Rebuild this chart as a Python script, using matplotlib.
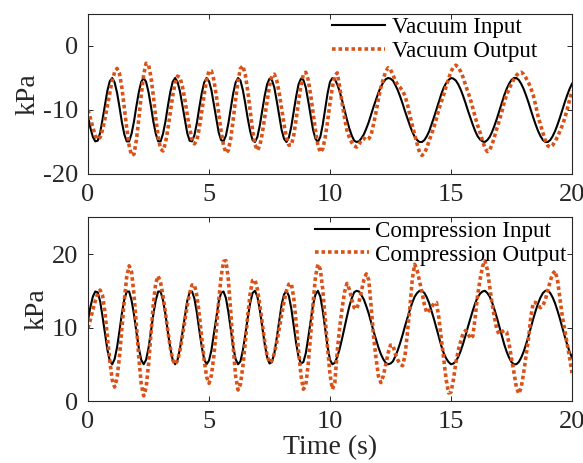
import numpy as np
import matplotlib
matplotlib.use("Agg")
import matplotlib.pyplot as plt

# samples every 0.1 s (kPa)
time_s = np.linspace(0, 20, 201)

vacuum_input = [
    -11.0, -12.8, -14.2, -14.9, -14.8, -13.6, -11.5, -9.2, -7.0, -5.5,
    -5.0, -5.7, -7.3, -9.5, -11.9, -13.8, -14.9, -14.9, -13.7, -11.8,
    -9.4, -7.2, -5.6, -5.0, -5.6, -7.2, -9.4, -11.8, -13.7, -14.9,
    -14.9, -13.7, -11.8, -9.4, -7.2, -5.6, -5.0, -5.6, -7.1, -9.3,
    -11.6, -13.6, -14.8, -14.9, -13.9, -12.0, -9.6, -7.4, -5.7, -5.0,
    -5.5, -6.9, -9.1, -11.4, -13.5, -14.7, -14.9, -14.0, -12.1, -9.8,
    -7.4, -5.7, -5.0, -5.4, -6.9, -9.0, -11.3, -13.3, -14.7, -15.0,
    -14.2, -12.4, -10.1, -7.8, -6.0, -5.1, -5.3, -6.5, -8.6, -10.9,
    -13.1, -14.5, -15.0, -14.3, -12.6, -10.2, -7.9, -6.0, -5.1, -5.3,
    -6.5, -8.6, -10.9, -13.1, -14.5, -15.0, -14.2, -12.3, -9.9, -7.4,
    -5.6, -5.0, -5.2, -6.0, -7.1, -8.5, -10.0, -11.5, -12.9, -14.0,
    -14.8, -15.0, -14.9, -14.4, -13.8, -12.9, -11.9, -10.7, -9.5, -8.4,
    -7.3, -6.4, -5.7, -5.2, -5.0, -5.1, -5.4, -6.1, -6.9, -7.9,
    -9.0, -10.2, -11.3, -12.4, -13.4, -14.2, -14.7, -15.0, -15.0, -14.7,
    -14.1, -13.3, -12.2, -11.1, -9.9, -8.7, -7.5, -6.5, -5.8, -5.3,
    -5.0, -5.1, -5.4, -6.0, -6.8, -7.8, -8.9, -10.1, -11.2, -12.3,
    -13.3, -14.1, -14.6, -14.9, -15.0, -14.7, -14.2, -13.4, -12.4, -11.3,
    -10.1, -8.9, -7.7, -6.7, -5.9, -5.3, -5.0, -5.0, -5.3, -5.9,
    -6.7, -7.7, -8.8, -10.0, -11.2, -12.3, -13.3, -14.1, -14.7, -15.0,
    -15.0, -14.7, -14.1, -13.3, -12.3, -11.2, -10.0, -8.8, -7.7, -6.7,
    -5.9,
]

vacuum_output = [
    -10.0, -11.3, -12.7, -14.0, -14.6, -14.3, -13.1, -11.4, -9.4, -7.3,
    -5.4, -4.1, -3.5, -4.3, -6.5, -9.6, -12.8, -15.6, -17.1, -16.9,
    -14.7, -11.4, -7.7, -4.5, -2.7, -2.9, -4.8, -7.8, -11.2, -14.2,
    -16.1, -16.4, -15.2, -13.0, -10.4, -7.8, -5.8, -4.7, -4.9, -6.3,
    -8.3, -10.7, -12.9, -14.6, -15.3, -14.7, -12.8, -10.3, -7.6, -5.3,
    -3.9, -3.9, -5.3, -7.7, -10.5, -13.3, -15.5, -16.7, -16.3, -14.4,
    -11.5, -8.3, -5.4, -3.5, -3.1, -4.5, -7.0, -10.1, -13.1, -15.4,
    -16.3, -15.6, -13.7, -11.2, -8.6, -6.2, -4.7, -4.4, -5.4, -7.3,
    -9.7, -12.2, -14.3, -15.5, -15.5, -14.0, -11.5, -8.7, -6.2, -4.4,
    -4.1, -5.3, -7.6, -10.4, -13.2, -15.5, -16.6, -16.1, -14.3, -11.8,
    -8.9, -6.4, -4.6, -4.2, -6.4, -8.9, -11.2, -13.2, -14.3, -15.1,
    -15.6, -15.8, -15.4, -14.7, -14.4, -14.7, -14.5, -13.9, -12.2, -10.4,
    -8.3, -6.5, -5.2, -4.0, -3.4, -3.7, -4.5, -5.4, -6.1, -6.5,
    -7.0, -7.8, -9.1, -10.8, -12.4, -13.8, -15.3, -16.6, -17.1, -16.8,
    -15.9, -14.8, -13.7, -12.6, -11.3, -9.9, -8.7, -7.6, -6.3, -5.1,
    -4.0, -3.3, -3.0, -3.3, -4.0, -4.9, -6.1, -7.2, -8.3, -9.7,
    -11.1, -12.4, -13.5, -14.8, -15.9, -16.5, -16.2, -15.4, -14.1, -12.8,
    -11.6, -10.3, -8.8, -7.6, -6.7, -5.9, -5.2, -4.6, -4.2, -4.1,
    -4.4, -5.0, -5.7, -6.6, -7.7, -9.3, -11.0, -12.3, -13.6, -14.8,
    -15.6, -15.8, -15.5, -14.9, -14.2, -13.3, -12.4, -11.3, -9.9, -8.4,
    -7.0,
]

compression_input = [
    11.0, 12.8, 14.2, 14.9, 14.8, 13.6, 11.5, 9.2, 7.0, 5.5,
    5.0, 5.7, 7.3, 9.5, 11.9, 13.8, 14.9, 14.9, 13.7, 11.8,
    9.4, 7.2, 5.6, 5.0, 5.6, 7.2, 9.4, 11.8, 13.7, 14.9,
    14.9, 13.7, 11.8, 9.4, 7.2, 5.6, 5.0, 5.6, 7.1, 9.3,
    11.6, 13.6, 14.8, 14.9, 13.9, 12.0, 9.6, 7.4, 5.7, 5.0,
    5.5, 6.9, 9.1, 11.4, 13.5, 14.7, 14.9, 14.0, 12.1, 9.8,
    7.4, 5.7, 5.0, 5.4, 6.9, 9.0, 11.3, 13.3, 14.7, 15.0,
    14.2, 12.4, 10.1, 7.8, 6.0, 5.1, 5.3, 6.5, 8.6, 10.9,
    13.1, 14.5, 15.0, 14.3, 12.6, 10.2, 7.9, 6.0, 5.1, 5.3,
    6.5, 8.6, 10.9, 13.1, 14.5, 15.0, 14.2, 12.3, 9.9, 7.4,
    5.6, 5.0, 5.2, 6.0, 7.1, 8.5, 10.0, 11.5, 12.9, 14.0,
    14.8, 15.0, 14.9, 14.4, 13.8, 12.9, 11.9, 10.7, 9.5, 8.4,
    7.3, 6.4, 5.7, 5.2, 5.0, 5.1, 5.4, 6.1, 6.9, 7.9,
    9.0, 10.2, 11.3, 12.4, 13.4, 14.2, 14.7, 15.0, 15.0, 14.7,
    14.1, 13.3, 12.2, 11.1, 9.9, 8.7, 7.5, 6.5, 5.8, 5.3,
    5.0, 5.1, 5.4, 6.0, 6.8, 7.8, 8.9, 10.1, 11.2, 12.3,
    13.3, 14.1, 14.6, 14.9, 15.0, 14.7, 14.2, 13.4, 12.4, 11.3,
    10.1, 8.9, 7.7, 6.7, 5.9, 5.3, 5.0, 5.0, 5.3, 5.9,
    6.7, 7.7, 8.8, 10.0, 11.2, 12.3, 13.3, 14.1, 14.7, 15.0,
    15.0, 14.7, 14.1, 13.3, 12.3, 11.2, 10.0, 8.8, 7.7, 6.7,
    5.9,
]

compression_output = [
    9.9, 11.1, 12.4, 13.6, 14.6, 15.1, 14.4, 12.1, 8.8, 5.5,
    2.9, 1.9, 3.1, 6.0, 9.8, 13.7, 16.9, 18.4, 17.6, 14.5,
    10.3, 5.9, 2.3, 0.7, 1.8, 4.9, 9.1, 13.2, 16.1, 17.0,
    16.1, 14.3, 12.0, 9.5, 7.3, 5.6, 5.0, 5.5, 6.9, 8.8,
    10.9, 13.0, 14.7, 15.8, 15.8, 14.3, 11.7, 8.6, 5.6, 3.3,
    2.4, 3.5, 6.1, 9.7, 13.6, 16.9, 19.0, 19.1, 16.5, 12.1,
    7.3, 3.4, 1.5, 2.3, 4.7, 8.0, 11.6, 14.6, 16.4, 16.5,
    15.2, 13.1, 10.6, 8.1, 6.2, 5.2, 5.5, 6.5, 8.0, 9.8,
    11.7, 13.5, 15.0, 15.9, 16.0, 14.1, 10.7, 6.9, 3.5, 1.6,
    2.2, 5.0, 9.0, 13.3, 16.9, 18.6, 17.9, 15.2, 11.3, 7.2,
    3.6, 1.6, 2.5, 6.8, 10.0, 12.6, 14.8, 16.0, 15.2, 13.8,
    12.7, 12.5, 13.5, 15.0, 16.5, 17.3, 16.5, 12.9, 8.8, 5.9,
    3.4, 2.5, 3.4, 4.9, 6.5, 7.6, 7.6, 6.4, 5.6, 5.0,
    4.8, 6.2, 9.3, 12.7, 16.6, 18.6, 17.8, 16.3, 14.8, 13.1,
    12.0, 12.3, 12.8, 13.3, 13.4, 11.3, 8.5, 5.8, 2.9, 1.1,
    1.2, 2.9, 5.2, 6.9, 8.1, 9.2, 9.6, 9.2, 8.5, 8.8,
    11.4, 14.4, 16.5, 18.3, 19.1, 17.9, 15.5, 13.2, 11.3, 9.6,
    9.1, 9.4, 9.6, 9.4, 7.8, 5.8, 3.9, 1.9, 1.0, 1.8,
    3.8, 6.1, 8.4, 11.5, 13.4, 13.4, 13.0, 12.7, 13.0, 13.8,
    15.1, 16.3, 17.3, 17.7, 16.5, 14.0, 11.5, 9.7, 7.8, 5.9,
    3.8,
]

x_ticks = [0, 5, 10, 15, 20]

plt.rcParams['font.family'] = ['Liberation Serif', 'DejaVu Serif']
plt.rcParams['axes.unicode_minus'] = False
ink = '#262626'
orange = '#D95319'

fig = plt.figure(figsize=(5.83, 4.63), dpi=100)
ax1 = fig.add_axes([88/583, 1-174/463, 484/583, 160/463])
ax2 = fig.add_axes([88/583, 1-401/463, 484/583, 183.7/463])

panels = [
    (ax1, vacuum_input, vacuum_output, "Vacuum Input", "Vacuum Output", (-20, 5), [-20, -10, 0], 0.5035),
    (ax2, compression_input, compression_output, "Compression Input", "Compression Output", (0, 25), [0, 10, 20], 0.469),
]

for ax, y_in, y_out, name_in, name_out, ylim, yticks, leg_x in panels:
    ax.plot(time_s, y_in, color='black', lw=1.5, label=name_in)
    ax.plot(time_s, y_out, color=orange, lw=2.6, linestyle=(0, (1, 0.8)), label=name_out)
    ax.set_xlim(0, 20)
    ax.set_ylim(*ylim)
    ax.set_xticks(x_ticks)
    ax.set_yticks(yticks)
    ax.tick_params(direction='in', top=True, right=True, length=3.5, width=0.7,
                   labelsize=19, colors=ink, pad=7)
    for s in ax.spines.values():
        s.set_color(ink)
        s.set_linewidth(0.8)
    ax.set_ylabel("kPa", fontsize=20, color=ink, labelpad=2)
    ax.legend(loc='upper left', bbox_to_anchor=(leg_x, 0.98), frameon=False, fontsize=16.6,
              handlelength=2.33, handletextpad=0.27, labelspacing=0.1, borderpad=0, borderaxespad=0)

ax2.set_xlabel("Time (s)", fontsize=20, color=ink, labelpad=2)

fig.savefig("out.png", dpi=100)
